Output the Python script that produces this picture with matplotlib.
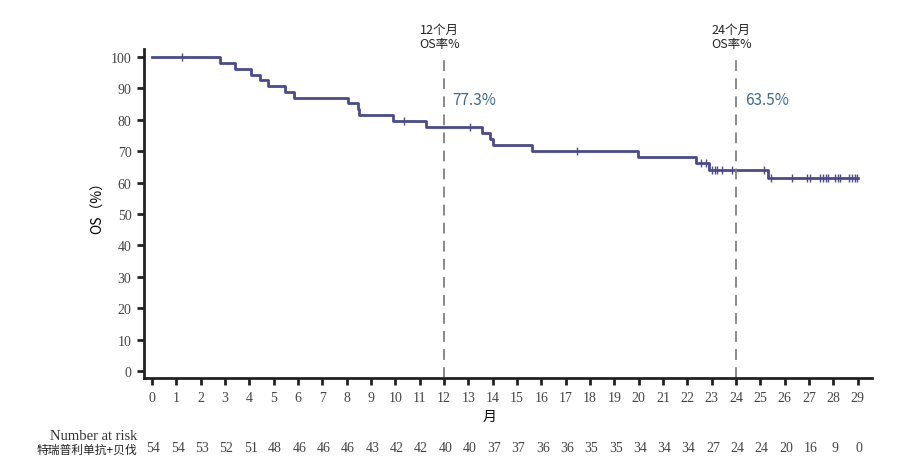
import numpy as np
import matplotlib.pyplot as plt
from matplotlib import transforms

plt.rcParams['font.family'] = ['Noto Sans CJK SC', 'DejaVu Sans']

# KM steps (months, OS %)
times = [0, 2.8, 3.4, 4.05, 4.44, 4.78, 5.46, 5.83, 8.06, 8.45, 8.5, 9.91,
         11.25, 13.54, 13.9, 14.0, 15.6, 19.97, 22.34, 22.9, 25.32, 29.0]
surv = [100, 98.1, 96.3, 94.4, 92.6, 90.7, 88.9, 87.0, 85.2, 83.3, 81.5, 79.6,
        77.6, 75.8, 73.9, 72.0, 70.1, 68.2, 66.2, 64.1, 61.4, 61.4]

# censored times
censor = [1.22, 10.35, 13.06, 17.48, 22.57, 22.78, 23.01, 23.12, 23.23, 23.44,
          23.83, 25.13, 25.42, 26.3, 26.93, 27.02, 27.43, 27.57, 27.68, 27.77,
          28.05, 28.19, 28.25, 28.64, 28.78, 28.9, 28.98]

months = list(range(30))
at_risk = [54, 54, 53, 52, 51, 48, 46, 46, 46, 43, 42, 42, 40, 40, 37, 37, 36,
           36, 35, 35, 34, 34, 34, 27, 24, 24, 20, 16, 9, 0]

landmarks = [12, 24]
landmark_rates = ["77.3%", "63.5%"]

line_col = "#4a4a8c"
serif = "Liberation Serif"

fig = plt.figure(figsize=(9.13, 4.64), dpi=100)
ax = fig.add_axes([0.1577, 0.183, 0.7973, 0.709])

ax.step(times, surv, where="post", color=line_col, lw=2)
idx = np.searchsorted(times, censor, side="right") - 1
cy = [surv[i] for i in idx]
ax.plot(censor, cy, ls="none", marker="|", ms=6, mew=1, color=line_col)

for m, r in zip(landmarks, landmark_rates):
    ax.plot([m, m], [-2.2, 99.4], ls=(0, (6, 4)), color="#808080", lw=1.3,
            clip_on=False)
    ax.text(m - 0.2, 102.3, f"{m}个月\nOS率%", ha="center", va="bottom",
            fontsize=9, linespacing=1.05, color="#222222")
    ax.text(m + 0.35, 86.6, r, ha="left", va="center", fontsize=11,
            color="#3f6b8c")

ax.set_xlim(-0.33, 29.58)
ax.set_ylim(-2.23, 102.5)
ax.set_xticks(months)
ax.set_yticks(range(0, 101, 10))
for lab in ax.get_xticklabels() + ax.get_yticklabels():
    lab.set_fontfamily(serif)
    lab.set_fontsize(10)
    lab.set_color("#444444")

for s in ["top", "right"]:
    ax.spines[s].set_visible(False)
for s in ["left", "bottom"]:
    ax.spines[s].set_linewidth(2)
    ax.spines[s].set_color("#222222")
ax.tick_params(direction="out", length=5, width=2, color="#222222", pad=4)

ax.set_ylabel("OS（%）", fontsize=10)
ax.yaxis.set_label_coords(-0.054, 0.53)
ax.set_xlabel("月", fontsize=10)
ax.xaxis.set_label_coords(0.475, -0.094)

# number at risk table
tr = transforms.blended_transform_factory(ax.transData, fig.transFigure)
ax.text(-0.6, 1 - 437 / 464, "Number at risk", transform=tr, ha="right",
        va="center", fontsize=10.5, family=serif, color="#333333")
ax.text(-0.6, 1 - 450 / 464, "特瑞普利单抗+贝伐", transform=tr, ha="right",
        va="center", fontsize=8.5, color="#222222")
for m, n in zip(months, at_risk):
    ax.text(m + 0.05, 1 - 449 / 464, str(n), transform=tr, ha="center",
            va="center", fontsize=10, family=serif, color="#444444")

fig.savefig("out.png", dpi=100)
